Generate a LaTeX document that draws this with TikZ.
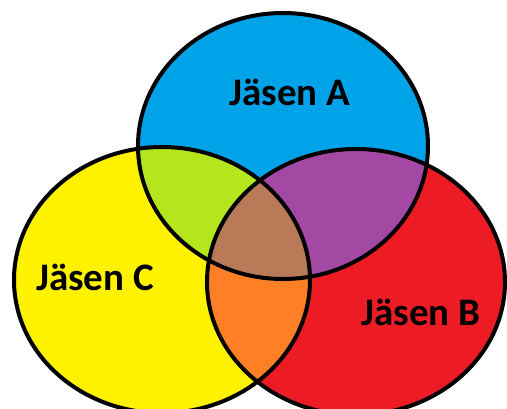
\documentclass[tikz,border=0pt]{standalone}
\usepackage{fontspec}
\setmainfont{Carlito}
\usepackage{tikz}
\definecolor{setA}{RGB}{0,162,232}
\definecolor{setB}{RGB}{237,28,36}
\definecolor{setC}{RGB}{255,242,0}
\definecolor{setAC}{RGB}{181,230,29}
\definecolor{setAB}{RGB}{163,73,164}
\definecolor{setBC}{RGB}{255,127,39}
\definecolor{setABC}{RGB}{185,122,87}
\tikzset{
  vennline/.style={draw=black, line width=4pt},
  vennlabel/.style={
    font=\bfseries\fontsize{39}{44}\selectfont, text=black, anchor=base
  },
}
\def\pathA{(283,146) ellipse [x radius=145, y radius=133]}
\def\pathB{(356,282) ellipse [x radius=149, y radius=133]}
\def\pathC{(162,280) ellipse [x radius=148, y radius=133]}

\begin{document}
\begin{tikzpicture}[x=1pt, y=-1pt]
  \useasboundingbox (0,0) rectangle (507,408);
  \clip (0,0) rectangle (507,408);

  % Single sets
  \fill[setA] \pathA;
  \fill[setB] \pathB;
  \fill[setC] \pathC;

  % Pairwise overlaps
  \begin{scope}
    \clip \pathA;
    \fill[setAC] \pathC;
  \end{scope}
  \begin{scope}
    \clip \pathA;
    \fill[setAB] \pathB;
  \end{scope}
  \begin{scope}
    \clip \pathB;
    \fill[setBC] \pathC;
  \end{scope}

  % Triple overlap
  \begin{scope}
    \clip \pathA;
    \clip \pathB;
    \fill[setABC] \pathC;
  \end{scope}

  % Outlines
  \draw[vennline] \pathA;
  \draw[vennline] \pathB;
  \draw[vennline] \pathC;

  % Labels
  \node[vennlabel] (labA) at (290,105) {Jäsen A};
  \node[vennlabel] (labB) at (421,325) {Jäsen B};
  \node[vennlabel] (labC) at (95,290) {Jäsen C};
\end{tikzpicture}
\end{document}
